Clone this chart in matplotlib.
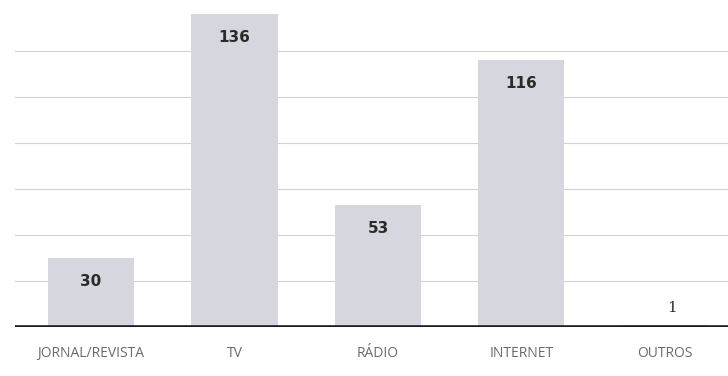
import matplotlib
matplotlib.use("Agg")
import matplotlib.pyplot as plt

# categories and counts
categories = ["JORNAL/REVISTA", "TV", "RÁDIO", "INTERNET", "OUTROS"]
values = [30, 136, 53, 116, 1]
gridlines = [20, 40, 60, 80, 100, 120]

fig = plt.figure(figsize=(7.28, 3.76), dpi=100)
ax = fig.add_axes([15 / 728, 49 / 376, 1 - 15 / 728, 1 - 49 / 376])

x = list(range(len(categories)))

#light gridlines behind the bars
for g in gridlines:
    ax.axhline(g, color="#d2d2d2", linewidth=0.8, zorder=1)

ax.bar(x, values, width=0.6, color="#d6d6de", zorder=2)

#value labels, inside the bar when it is tall enough
for xi, v in zip(x, values):
    if v > 10:
        ax.annotate(str(v), (xi, v), xytext=(0, -17), textcoords="offset points",
                    ha="center", va="center", fontsize=11, fontweight="bold",
                    color="#2a2a2a", zorder=3)
    else:
        ax.annotate(str(v), (xi + 0.05, v), xytext=(0, 12), textcoords="offset points",
                    ha="center", va="center", fontsize=11, family="DejaVu Serif",
                    color="#2a2a2a", zorder=3)

ax.axhline(0, color="#1c1c1c", linewidth=2.6, zorder=4)

ax.set_xlim(-0.53, 4.44)
ax.set_ylim(0, 142)
ax.set_xticks(x)
ax.set_xticklabels(categories, fontsize=10, color="#6a6a6a", family="Open Sans")
ax.tick_params(axis="x", length=0, pad=14)
ax.set_yticks([])
for s in ax.spines.values():
    s.set_visible(False)

fig.savefig("out.png", dpi=100)
